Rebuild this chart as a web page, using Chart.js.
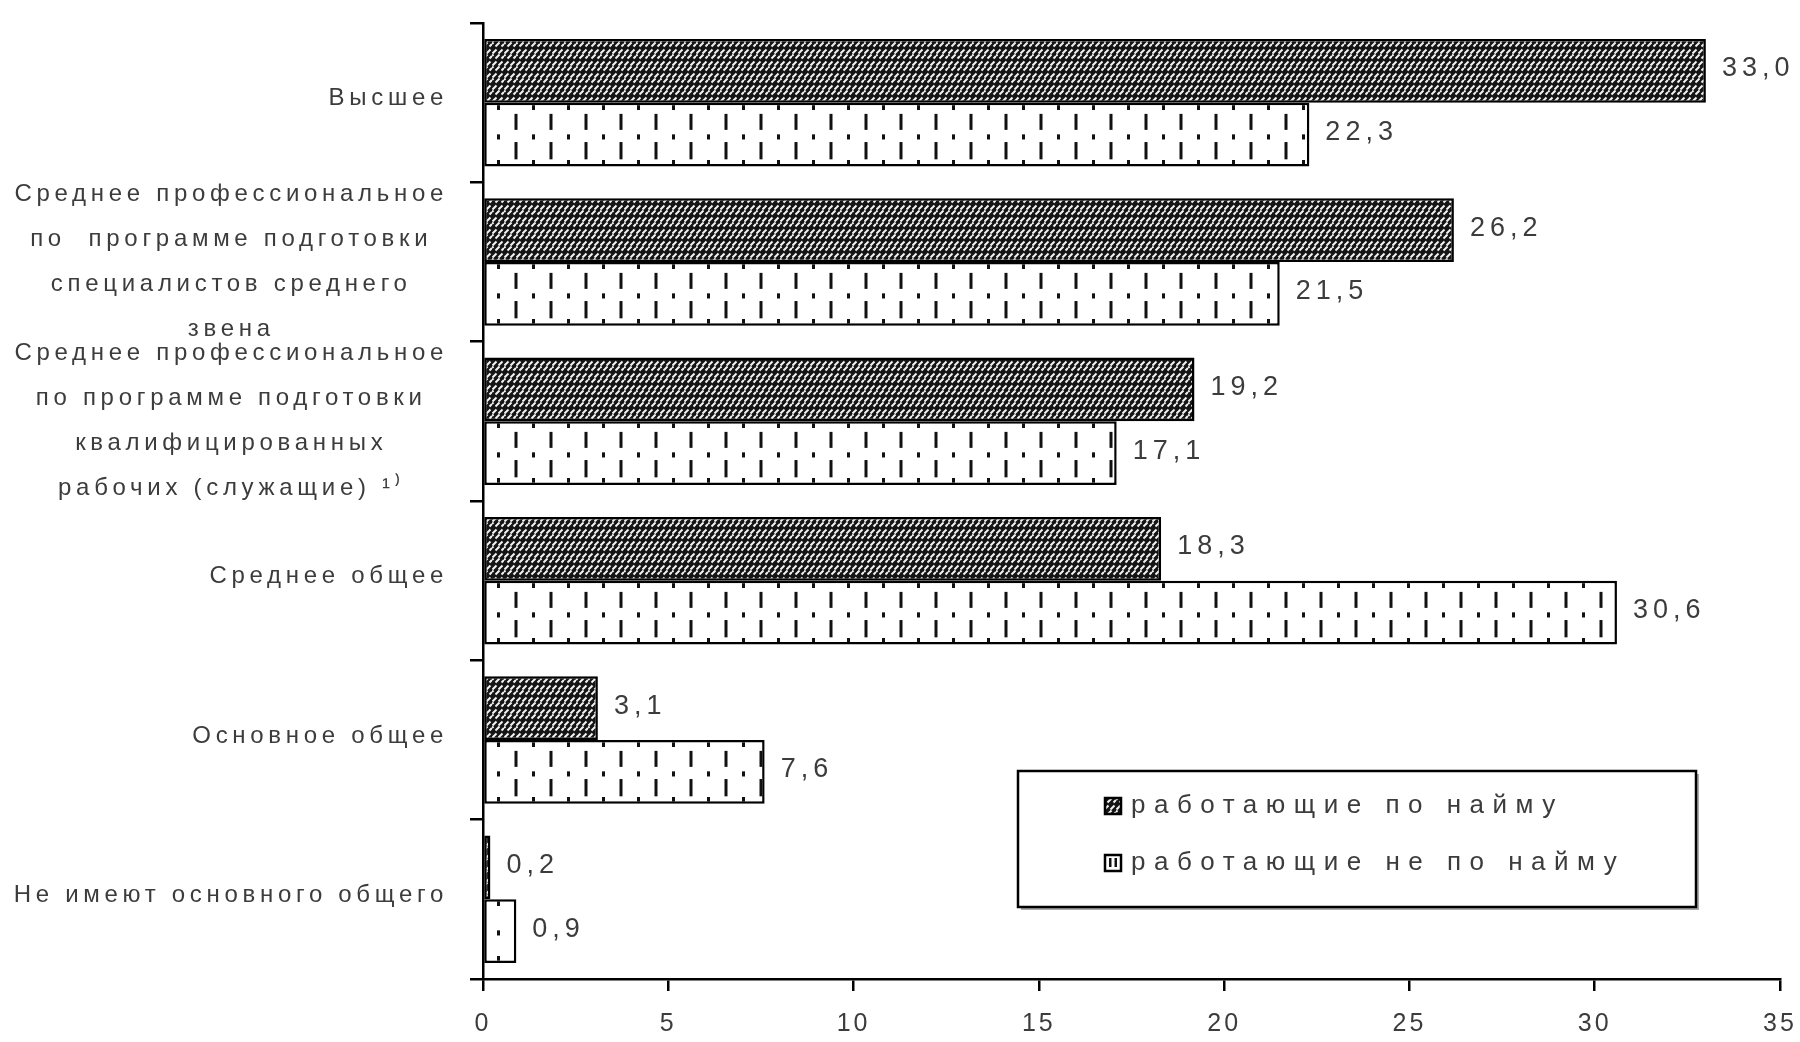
<!DOCTYPE html>
<html>
<head>
<meta charset="utf-8">
<script src="https://cdn.jsdelivr.net/npm/chart.js@4.4.1/dist/chart.umd.min.js"></script>
<style>
  html, body { margin: 0; background: #fff; }
  #caja { width: 1800px; height: 1042px; }
</style>
</head>
<body>
<div id="caja"><canvas id="grafico"></canvas></div>
<script>
// Datos (%)
const categorias = [
  'Высшее',
  ['Среднее профессиональное', 'по  программе подготовки', 'специалистов среднего', 'звена'],
  ['Среднее профессиональное', 'по программе подготовки', 'квалифицированных', 'рабочих (служащие) ¹⁾'],
  'Среднее общее',
  'Основное общее',
  'Не имеют основного общего'
];
const series = ['работающие по найму', 'работающие не по найму'];
const porNaimu = [33.0, 26.2, 19.2, 18.3, 3.1, 0.2];
const nePoNaimu = [22.3, 21.5, 17.1, 30.6, 7.6, 0.9];
const ticksX = [0, 5, 10, 15, 20, 25, 30, 35];

const FUENTE = '"Liberation Sans", Arial, sans-serif';
const GRIS = '#3c3c3c';

// tramas tipo Excel en blanco y negro
function tramaOscura() {
  const c = document.createElement('canvas');
  c.width = 12; c.height = 12;
  const g = c.getContext('2d');
  g.fillStyle = '#151515'; g.fillRect(0, 0, 12, 12);
  g.strokeStyle = '#f2f2f2'; g.lineWidth = 2; g.lineCap = 'butt';
  g.beginPath();
  g.moveTo(0.5, 5.5); g.lineTo(4.5, 1.5);
  g.moveTo(6.5, 5.5); g.lineTo(10.5, 1.5);
  g.moveTo(3.5, 10.5); g.lineTo(7.5, 6.5);
  g.moveTo(9.5, 10.5); g.lineTo(12, 8);
  g.moveTo(0, 8); g.lineTo(1.5, 6.5);
  g.stroke();
  return c;
}
function tramaBlanca(h) {
  const w = 35;
  const c = document.createElement('canvas');
  c.width = w; c.height = Math.max(8, Math.round(h));
  const H = c.height;
  const g = c.getContext('2d');
  g.fillStyle = '#fff'; g.fillRect(0, 0, w, H);
  g.fillStyle = '#111';
  // columna A: dientes arriba/abajo y punto central
  g.fillRect(14, 0, 3, 7);
  g.fillRect(14, H * 0.49, 3, H * 0.08);
  g.fillRect(14, H - 7, 3, 7);
  // columna B: dos trazos verticales
  g.fillRect(31.5, H * 0.17, 3, H * 0.25);
  g.fillRect(31.5, H * 0.61, 3, H * 0.27);
  return c;
}
const cache = {};
function fondo(ctx) {
  const ch = ctx.chart;
  const y = ch.scales && ch.scales.y;
  const x = ch.scales && ch.scales.x;
  if (!y || !ch.chartArea || ctx.dataIndex === undefined) return ctx.datasetIndex === 0 ? '#333' : '#fff';
  if (ctx.datasetIndex === 0) {
    if (!cache.osc) cache.osc = ch.ctx.createPattern(tramaOscura(), 'repeat');
    return cache.osc;
  }
  const paso = ch.chartArea.height / ch.data.labels.length;
  const grosor = paso * 0.8 / 2;
  const arriba = y.getPixelForValue(ctx.dataIndex);
  const k = Math.round(grosor) + ':' + Math.round(arriba);
  if (!cache[k]) {
    const p = ch.ctx.createPattern(tramaBlanca(grosor), 'repeat');
    p.setTransform(new DOMMatrix([1, 0, 0, 1, x.getPixelForValue(0), Math.round(arriba)]));
    cache[k] = p;
  }
  return cache[k];
}

const fmt = v => v.toFixed(1).replace('.', ',');

// etiquetas de categorías: una línea a la derecha, varias centradas
const etiquetasY = {
  id: 'etiquetasY',
  afterDraw(chart) {
    const ctx = chart.ctx, y = chart.scales.y;
    ctx.save();
    ctx.font = '24px ' + FUENTE;
    ctx.letterSpacing = '4.7px';
    ctx.fillStyle = GRIS;
    ctx.textBaseline = 'middle';
    const derecha = 448;
    chart.data.labels.forEach((lab, i) => {
      const cy = y.getPixelForValue(i);
      if (Array.isArray(lab)) {
        const ancho = Math.max(...lab.map(l => ctx.measureText(l).width));
        ctx.textAlign = 'center';
        const alto = 45;
        lab.forEach((l, j) => ctx.fillText(l, derecha - ancho / 2, cy + (j - (lab.length - 1) / 2) * alto));
      } else {
        ctx.textAlign = 'right';
        ctx.fillText(lab, derecha, cy - 4);
      }
    });
    ctx.restore();
  }
};

// valores al final de cada barra
const valores = {
  id: 'valores',
  afterDatasetsDraw(chart) {
    const ctx = chart.ctx;
    ctx.save();
    ctx.font = '27px ' + FUENTE;
    ctx.letterSpacing = '5px';
    ctx.fillStyle = GRIS;
    ctx.textAlign = 'left';
    ctx.textBaseline = 'middle';
    chart.data.datasets.forEach((ds, di) => {
      chart.getDatasetMeta(di).data.forEach((bar, i) => {
        ctx.fillText(fmt(ds.data[i]), bar.x + 16, bar.y - 2);
      });
    });
    ctx.restore();
  }
};

// leyenda en recuadro dentro del área
const leyenda = {
  id: 'leyenda',
  afterDraw(chart) {
    const ctx = chart.ctx;
    const bx = 1018, by = 771, bw = 678, bh = 136;
    ctx.save();
    ctx.fillStyle = '#aaa';
    ctx.fillRect(bx + 3, by + 3, bw, bh);
    ctx.fillStyle = '#fff';
    ctx.fillRect(bx, by, bw, bh);
    ctx.strokeStyle = '#000'; ctx.lineWidth = 2.5;
    ctx.strokeRect(bx, by, bw, bh);
    ctx.font = '26px ' + FUENTE;
    ctx.letterSpacing = '8.5px';
    ctx.textBaseline = 'middle';
    ctx.textAlign = 'left';
    const filas = [806, 863];
    chart.data.datasets.forEach((ds, di) => {
      const yy = filas[di];
      const m = 16;
      if (di === 0) {
        ctx.fillStyle = ctx.createPattern(tramaOscura(), 'repeat');
        ctx.fillRect(1105, yy - m / 2, m, m);
      } else {
        ctx.fillStyle = '#fff';
        ctx.fillRect(1105, yy - m / 2, m, m);
        ctx.fillStyle = '#111';
        ctx.fillRect(1109, yy - 5, 2.5, 9);
        ctx.fillRect(1114.5, yy - 5, 2.5, 9);
      }
      ctx.lineWidth = 2.5;
      ctx.strokeStyle = '#000';
      ctx.strokeRect(1105, yy - m / 2, m, m);
      ctx.fillStyle = GRIS;
      ctx.fillText(ds.label, 1131, yy);
    });
    ctx.restore();
  }
};

const espaciado = {
  id: 'espaciado',
  beforeDraw(chart) { chart.ctx.letterSpacing = '3px'; }
};

new Chart(document.getElementById('grafico').getContext('2d'), {
  type: 'bar',
  data: {
    labels: categorias,
    datasets: [
      { label: series[0], data: porNaimu, backgroundColor: fondo, borderColor: '#000', borderWidth: 2.5, borderSkipped: false },
      { label: series[1], data: nePoNaimu, backgroundColor: fondo, borderColor: '#000', borderWidth: 2.5, borderSkipped: false }
    ]
  },
  options: {
    indexAxis: 'y',
    responsive: true,
    maintainAspectRatio: false,
    devicePixelRatio: 1,
    animation: false,
    categoryPercentage: 0.8,
    barPercentage: 1,
    layout: { padding: { left: 0, right: 20, top: 23, bottom: 0 } },
    plugins: { legend: { display: false }, tooltip: { enabled: false } },
    scales: {
      x: {
        min: ticksX[0], max: ticksX[ticksX.length - 1],
        ticks: { stepSize: ticksX[1] - ticksX[0], color: GRIS, font: { family: FUENTE, size: 25 }, padding: 18 },
        grid: { drawOnChartArea: false, drawTicks: true, tickLength: 12, color: '#000', lineWidth: 2.5 },
        border: { display: true, color: '#000', width: 2.5 },
        afterFit: s => { s.height = 63; s.paddingLeft = 0; s.paddingRight = 0; }
      },
      y: {
        ticks: { display: false },
        grid: { drawOnChartArea: false, drawTicks: true, tickLength: 13, color: '#000', lineWidth: 2.5, offset: true },
        border: { display: true, color: '#000', width: 2.5 },
        afterFit: s => { s.width = 483; }
      }
    }
  },
  plugins: [espaciado, etiquetasY, valores, leyenda]
});
</script>
</body>
</html>
